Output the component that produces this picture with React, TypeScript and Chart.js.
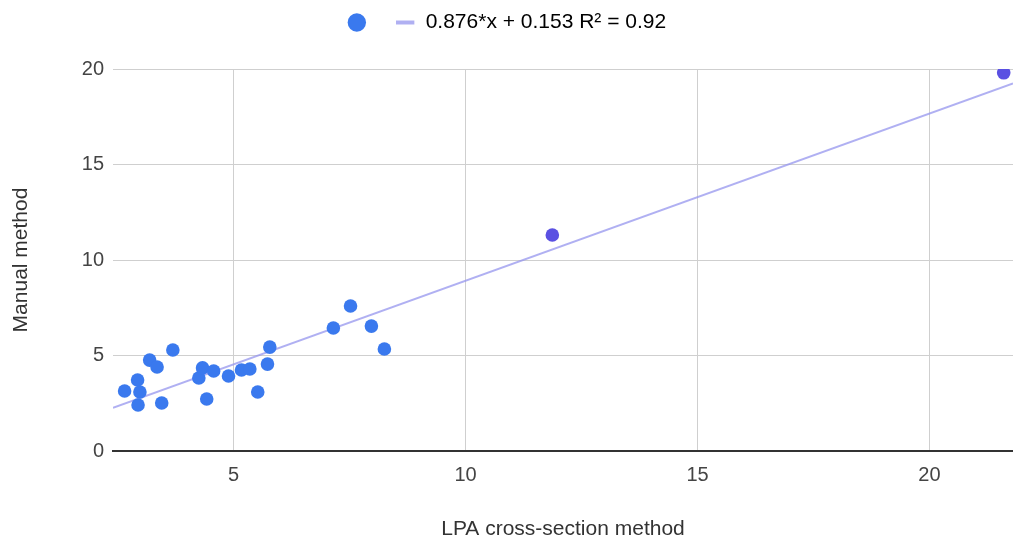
import React, { useEffect, useRef } from "react";
import { Chart, registerables } from "chart.js";

Chart.register(...registerables);

// LPA cross-section method (x) vs Manual method (y)
const lpaValues = [
  2.65, 2.93, 2.98, 2.94, 3.19, 3.35, 3.69, 3.45, 4.25, 4.33, 4.42, 4.57,
  4.89, 5.17, 5.35, 5.52, 5.73, 5.78, 7.15, 7.52, 7.97, 8.25, 11.87, 21.6,
];
const manualValues = [
  3.14, 3.72, 3.09, 2.41, 4.76, 4.4, 5.29, 2.51, 3.82, 4.35, 2.72, 4.19,
  3.93, 4.24, 4.29, 3.09, 4.55, 5.44, 6.44, 7.59, 6.54, 5.34, 11.31, 19.8,
];

// Trendline coefficients
const trendSlope = 0.876;
const trendIntercept = 0.153;
const trendLabel = "0.876*x + 0.153 R² = 0.92";

// Axis ranges and ticks
const xRange = [2.4, 21.8];
const yRange = [0, 20];
const xTickValues = [5, 10, 15, 20];
const yTickValues = [0, 5, 10, 15, 20];

const FONT = "'Liberation Sans', Arial, sans-serif";
const BLUE = "#3a79ee";
const PURPLE = "#5a50e2";
const TREND = "rgba(150,150,238,0.75)";

export default function App() {
  const canvasRef = useRef<HTMLCanvasElement | null>(null);

  useEffect(() => {
    document.body.style.margin = "0";
    const canvas = canvasRef.current;
    if (!canvas) return;

    const points = lpaValues.map((x, i) => ({ x, y: manualValues[i] }));
    const trendPoints = xRange.map((x) => ({ x, y: trendSlope * x + trendIntercept }));

    const legendPatch = {
      id: "legendPatch",
      beforeLayout(chart: any) {
        const lg = chart.legend;
        if (lg && !lg._patched) {
          const orig = lg.fit.bind(lg);
          lg.fit = function () {
            orig();
            this.height += 26;
          };
          lg._patched = true;
        }
      },
    };

    const chart = new Chart(canvas, {
      type: "scatter",
      data: {
        datasets: [
          {
            type: "scatter",
            label: " ",
            data: points,
            backgroundColor: (ctx: any) =>
              ctx.raw && ctx.raw.x > 10 ? PURPLE : BLUE,
            borderWidth: 0,
            pointRadius: 6.8,
            pointHoverRadius: 6.8,
            clip: 0,
          } as any,
          {
            type: "line",
            label: trendLabel,
            data: trendPoints,
            borderColor: TREND,
            borderWidth: 2,
            pointRadius: 0,
            fill: false,
            showLine: true,
          } as any,
        ],
      },
      options: {
        animation: false,
        responsive: false,
        layout: { autoPadding: false, padding: { left: 0, right: 0, top: 0, bottom: 0 } },
        plugins: {
          tooltip: { enabled: false },
          legend: {
            position: "top",
            align: "center",
            labels: {
              usePointStyle: true,
              boxWidth: 20,
              boxHeight: 13,
              padding: 12,
              color: "#444",
              font: { family: FONT, size: 21 },
              generateLabels: () => [
                {
                  text: " ",
                  fillStyle: BLUE,
                  strokeStyle: BLUE,
                  lineWidth: 0,
                  pointStyle: "circle",
                  datasetIndex: 0,
                  hidden: false,
                } as any,
                {
                  text: trendLabel,
                  fillStyle: TREND,
                  strokeStyle: TREND,
                  lineWidth: 4,
                  pointStyle: "line",
                  datasetIndex: 1,
                  hidden: false,
                } as any,
              ],
            },
          },
        },
        scales: {
          x: {
            type: "linear",
            min: xRange[0],
            max: xRange[1],
            afterFit: (s: any) => {
              s.height = 95;
              s.paddingRight = 0;
              s.paddingLeft = 0;
            },
            afterBuildTicks: (s: any) => {
              s.ticks = xTickValues.map((v) => ({ value: v }));
            },
            ticks: {
              padding: 12,
              color: "#444",
              font: { family: FONT, size: 20 },
            },
            grid: {
              color: "#cfcfcf",
              lineWidth: 1,
              drawTicks: false,
            },
            border: { display: true, color: "#333", width: 2 },
            title: {
              display: true,
              text: "LPA cross-section method",
              color: "#333",
              font: { family: FONT, size: 21 },
              padding: { top: 0, bottom: 4 },
            },
          },
          y: {
            type: "linear",
            min: yRange[0],
            max: yRange[1],
            afterFit: (s: any) => {
              s.width = 113;
            },
            afterBuildTicks: (s: any) => {
              s.ticks = yTickValues.map((v) => ({ value: v }));
            },
            ticks: {
              padding: 9,
              color: "#444",
              font: { family: FONT, size: 20 },
            },
            grid: {
              color: "#cfcfcf",
              lineWidth: 1,
              drawTicks: false,
            },
            border: { display: false },
            title: {
              display: true,
              text: "Manual method",
              color: "#333",
              font: { family: FONT, size: 21 },
              padding: { top: 9, bottom: 0 },
            },
          },
        },
      },
      plugins: [legendPatch],
    } as any);

    return () => chart.destroy();
  }, []);

  return (
    <div style={{ width: 1013, height: 546, background: "#fff" }}>
      <canvas ref={canvasRef} width={1013} height={546} style={{ display: "block" }} />
    </div>
  );
}
